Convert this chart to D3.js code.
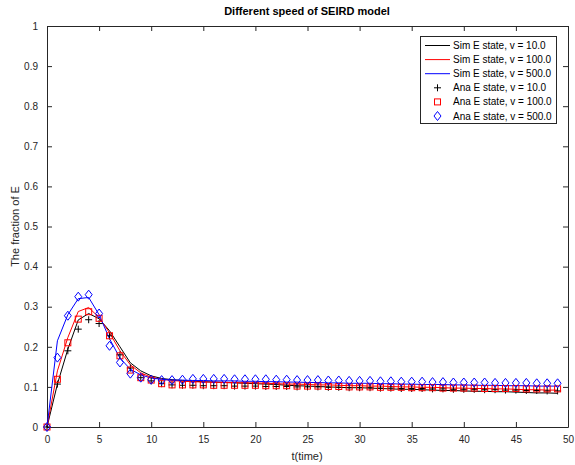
<!DOCTYPE html>
<html><head><meta charset="utf-8">
<script src="https://cdn.jsdelivr.net/npm/d3@7"></script>
<style>body{margin:0;background:#fff;} svg{display:block;font-family:"Liberation Sans",Arial,sans-serif;}</style>
</head><body><svg id="c" width="575" height="465"></svg>
<script>
const t = d3.range(0, 50);
const simV10 = [0,0.107,0.194,0.267,0.283,0.27,0.24,0.2,0.16,0.14,0.1275,0.121,0.118,0.116,0.114,0.113,0.112,0.111,0.11,0.109,0.108,0.107,0.106,0.104,0.103,0.102,0.101,0.1,0.099,0.098,0.098,0.097,0.096,0.095,0.094,0.094,0.093,0.092,0.091,0.091,0.09,0.089,0.089,0.088,0.088,0.087,0.086,0.085,0.085,0.084];
const simV100 = [0,0.14,0.223,0.288,0.298,0.273,0.235,0.19,0.155,0.135,0.124,0.119,0.116,0.114,0.113,0.112,0.112,0.111,0.111,0.11,0.11,0.109,0.108,0.107,0.107,0.106,0.105,0.105,0.104,0.103,0.103,0.102,0.102,0.101,0.1,0.1,0.099,0.099,0.098,0.097,0.097,0.096,0.096,0.095,0.095,0.094,0.093,0.093,0.092,0.092];
const simV500 = [0,0.215,0.28,0.32,0.323,0.28,0.22,0.172,0.144,0.13,0.122,0.119,0.117,0.117,0.116,0.116,0.115,0.115,0.115,0.114,0.114,0.113,0.113,0.112,0.112,0.111,0.111,0.11,0.11,0.109,0.109,0.109,0.108,0.108,0.107,0.107,0.106,0.106,0.106,0.105,0.105,0.104,0.104,0.104,0.103,0.103,0.103,0.102,0.102,0.102];
const anaV10 = [0,0.107,0.19,0.244,0.2675,0.258,0.2275,0.18,0.147,0.123,0.115,0.108,0.105,0.104,0.104,0.103,0.103,0.103,0.102,0.102,0.102,0.101,0.101,0.101,0.1,0.1,0.1,0.099,0.099,0.098,0.098,0.098,0.097,0.097,0.096,0.096,0.096,0.095,0.095,0.094,0.094,0.094,0.093,0.093,0.092,0.092,0.091,0.091,0.09,0.09];
const anaV100 = [0,0.119,0.21,0.269,0.2875,0.271,0.2275,0.1775,0.142,0.123,0.117,0.108,0.105,0.105,0.105,0.105,0.104,0.104,0.104,0.104,0.104,0.103,0.103,0.103,0.102,0.102,0.102,0.101,0.101,0.1,0.1,0.1,0.099,0.099,0.099,0.098,0.098,0.098,0.097,0.097,0.097,0.097,0.096,0.096,0.096,0.096,0.095,0.095,0.095,0.095];
const anaV500 = [0,0.173,0.2775,0.325,0.33,0.283,0.2025,0.161,0.133,0.123,0.118,0.117,0.117,0.118,0.12,0.12,0.12,0.12,0.119,0.119,0.119,0.119,0.118,0.118,0.117,0.117,0.117,0.116,0.116,0.115,0.115,0.115,0.114,0.114,0.113,0.113,0.113,0.112,0.112,0.111,0.111,0.111,0.111,0.11,0.11,0.11,0.11,0.109,0.109,0.109];
const xTicks = [0,5,10,15,20,25,30,35,40,45,50];
const yTicks = [0,0.1,0.2,0.3,0.4,0.5,0.6,0.7,0.8,0.9,1];
const legendLabels = ["Sim E state, v = 10.0","Sim E state, v = 100.0","Sim E state, v = 500.0","Ana E state, v = 10.0","Ana E state, v = 100.0","Ana E state, v = 500.0"];
const colors = ["#000000","#ff0000","#0000ff"];

const svg = d3.select("#c");
const L=47, R=568, T=26, B=427;
const x = d3.scaleLinear().domain([0,50]).range([L,R]);
const y = d3.scaleLinear().domain([0,1]).range([B,T]);

svg.append("rect").attr("width",575).attr("height",465).attr("fill","#fff");

// axes
const fmtY = d => d===0?"0":d===1?"1":d3.format(".1f")(d);
const ax = d3.axisBottom(x).tickValues(xTicks).tickSizeInner(-5).tickSizeOuter(0).tickPadding(9);
const gx = svg.append("g").attr("transform",`translate(0,${B})`).call(ax);
const axT = d3.axisTop(x).tickValues(xTicks).tickSizeInner(-5).tickSizeOuter(0).tickFormat("");
svg.append("g").attr("transform",`translate(0,${T})`).call(axT);
const ay = d3.axisLeft(y).tickValues(yTicks).tickSizeInner(-5).tickSizeOuter(0).tickPadding(9).tickFormat(fmtY);
svg.append("g").attr("transform",`translate(${L},0)`).call(ay);
const ayR = d3.axisRight(y).tickValues(yTicks).tickSizeInner(-5).tickSizeOuter(0).tickFormat("");
svg.append("g").attr("transform",`translate(${R},0)`).call(ayR);
svg.selectAll(".domain").attr("stroke","#262626").attr("stroke-width",1);
svg.selectAll(".tick line").attr("stroke","#262626");
svg.selectAll(".tick text").attr("fill","#262626").style("font-size","10px").style("font-family","Liberation Sans, Arial, sans-serif");

// lines
const line = d3.line().x((d,i)=>x(t[i])).y(d=>y(d));
[simV10,simV100,simV500].forEach((s,k)=>{
  svg.append("path").datum(s).attr("d",line).attr("fill","none").attr("stroke",colors[k]).attr("stroke-width",1);
});

// markers
function plus(g,cx,cy,c){g.append("path").attr("d",`M${cx-3.5},${cy}H${cx+3.5}M${cx},${cy-3.5}V${cy+3.5}`).attr("stroke",c).attr("stroke-width",1).attr("fill","none");}
function square(g,cx,cy,c){g.append("rect").attr("x",cx-3).attr("y",cy-3).attr("width",6).attr("height",6).attr("stroke",c).attr("stroke-width",1).attr("fill","none");}
function diamond(g,cx,cy,c){g.append("path").attr("d",`M${cx},${cy-4.5}L${cx+3.5},${cy}L${cx},${cy+4.5}L${cx-3.5},${cy}Z`).attr("stroke",c).attr("stroke-width",1).attr("fill","none");}
const mk=[plus,square,diamond];
const gm = svg.append("g");
[anaV10,anaV100,anaV500].forEach((s,k)=>{
  s.forEach((v,i)=>mk[k](gm,x(t[i]),y(v),colors[k]));
});

// title & labels
svg.append("text").attr("x",307).attr("y",15).attr("text-anchor","middle").style("font-size","11px").style("font-weight","bold").attr("fill","#000").text("Different speed of SEIRD model");
svg.append("text").attr("x",307).attr("y",460).attr("text-anchor","middle").style("font-size","11px").attr("fill","#262626").text("t(time)");
svg.append("text").attr("transform",`translate(19,${(T+B)/2}) rotate(-90)`).attr("text-anchor","middle").style("font-size","11px").attr("fill","#262626").text("The fraction of E");

// legend
const lg = svg.append("g");
lg.append("rect").attr("x",420.5).attr("y",36.5).attr("width",136).attr("height",87).attr("fill","#fff").attr("stroke","#262626").attr("stroke-width",1);
legendLabels.forEach((lab,i)=>{
  const cy = 45.5 + i*14.1;
  if(i<3){ lg.append("line").attr("x1",425).attr("x2",450).attr("y1",cy).attr("y2",cy).attr("stroke",colors[i]).attr("stroke-width",1); }
  else { mk[i-3](lg,437.5,cy,colors[i-3]); }
  lg.append("text").attr("x",453).attr("y",cy+3.5).style("font-size","10px").attr("fill","#000").text(lab);
});
</script></body></html>
